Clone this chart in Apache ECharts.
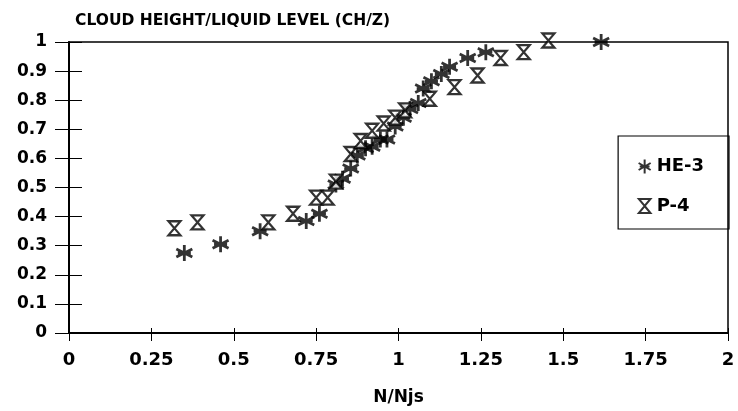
<!DOCTYPE html>
<html>
<head>
<meta charset="utf-8">
<script src="https://cdn.jsdelivr.net/npm/echarts@6/dist/echarts.min.js"></script>
<style>
  html, body { margin: 0; padding: 0; background: #fff; }
  #chart { width: 738px; height: 411px; }
</style>
</head>
<body>
<div id="chart"></div>
<script>
// N/Njs vs CH/Z
const he3X = [0.35, 0.46, 0.58, 0.72, 0.76, 0.81, 0.83, 0.855, 0.875, 0.90, 0.92, 0.945, 0.965, 0.99, 1.015, 1.035, 1.06, 1.075, 1.10, 1.13, 1.155, 1.21, 1.265, 1.615];
const he3Y = [0.275, 0.305, 0.35, 0.385, 0.41, 0.51, 0.53, 0.565, 0.61, 0.635, 0.64, 0.665, 0.665, 0.71, 0.74, 0.77, 0.79, 0.84, 0.865, 0.89, 0.915, 0.945, 0.965, 1.0];
const p4X = [0.32, 0.39, 0.605, 0.68, 0.75, 0.785, 0.81, 0.855, 0.885, 0.92, 0.955, 0.99, 1.02, 1.095, 1.17, 1.24, 1.31, 1.38, 1.455];
const p4Y = [0.36, 0.38, 0.38, 0.41, 0.465, 0.465, 0.52, 0.615, 0.66, 0.695, 0.72, 0.74, 0.765, 0.805, 0.845, 0.885, 0.945, 0.965, 1.005];

const xTicks = [0, 0.25, 0.5, 0.75, 1, 1.25, 1.5, 1.75, 2];
const seriesNames = ['HE-3', 'P-4'];

const font = 'DejaVu Sans';
const starPath = 'path://M5,0 L5,10 M0.7,2.5 L9.3,7.5 M9.3,2.5 L0.7,7.5 M1.5,5 L8.5,5';
const hourglassPath = 'path://M0,0 L10,0 L5,6 Z M5,6 L10,12 L0,12 Z';

const toPairs = (xs, ys) => xs.map((x, i) => [x, ys[i]]);

const chart = echarts.init(document.getElementById('chart'));

const xLabel = v => {
  const hit = xTicks.find(t => Math.abs(t - v) < 1e-6);
  return hit === undefined ? '' : String(hit);
};

chart.setOption({
  animation: false,
  backgroundColor: '#fff',
  title: {
    text: 'CLOUD HEIGHT/LIQUID LEVEL (CH/Z)',
    left: 70, top: 8,
    textStyle: { fontFamily: font, fontWeight: 'bold', fontSize: 15.5, color: '#000' }
  },
  legend: {
    orient: 'vertical',
    right: 9, top: 136,
    padding: [21, 25, 14, 18],
    itemGap: 21,
    itemWidth: 14, itemHeight: 14,
    borderColor: '#000', borderWidth: 1.2,
    textStyle: { fontFamily: font, fontWeight: 'bold', fontSize: 18, color: '#000' },
    data: seriesNames
  },
  grid: {
    left: 69, right: 10, top: 42, bottom: 77,
    show: true, borderColor: '#000', borderWidth: 1.5
  },
  xAxis: [{
    type: 'value', min: 0, max: 2, interval: 0.25,
    name: 'N/Njs', nameLocation: 'middle', nameGap: 56,
    nameTextStyle: { fontFamily: font, fontWeight: 'bold', fontSize: 17, color: '#000' },
    axisLine: { lineStyle: { color: '#000', width: 2 } },
    axisTick: { inside: true, length: 5, lineStyle: { color: '#000' } },
    axisLabel: { margin: 18, fontFamily: font, fontWeight: 'bold', fontSize: 18, color: '#000', formatter: xLabel },
    splitLine: { show: false }
  }, {
    type: 'value', min: 0, max: 2, interval: 0.25, position: 'bottom',
    axisLine: { show: false },
    axisTick: { length: 8, lineStyle: { color: '#000' } },
    axisLabel: { show: false },
    splitLine: { show: false }
  }],
  yAxis: [{
    type: 'value', min: 0, max: 1, interval: 0.1,
    axisLine: { show: true, lineStyle: { color: '#000', width: 2 } },
    axisTick: { show: true, inside: true, length: 13, lineStyle: { color: '#000' } },
    axisLabel: { margin: 22, fontFamily: font, fontWeight: 'bold', fontSize: 17, color: '#000',
      formatter: v => String(Math.round(v * 10) / 10) },
    splitLine: { show: false }
  }, {
    type: 'value', min: 0, max: 1, interval: 0.1, position: 'left',
    axisLine: { show: false },
    axisTick: { show: true, length: 14, lineStyle: { color: '#000' } },
    axisLabel: { show: false },
    splitLine: { show: false }
  }],
  series: [{
    name: seriesNames[0],
    type: 'scatter',
    clip: false,
    symbol: starPath,
    symbolSize: 16,
    itemStyle: { color: 'none', borderColor: '#000', borderWidth: 2.8 },
    data: toPairs(he3X, he3Y)
  }, {
    name: seriesNames[1],
    type: 'scatter',
    clip: false,
    symbol: hourglassPath,
    symbolSize: [12, 14],
    itemStyle: { color: '#fff', borderColor: '#000', borderWidth: 2.2 },
    data: toPairs(p4X, p4Y)
  }]
});
</script>
</body>
</html>
